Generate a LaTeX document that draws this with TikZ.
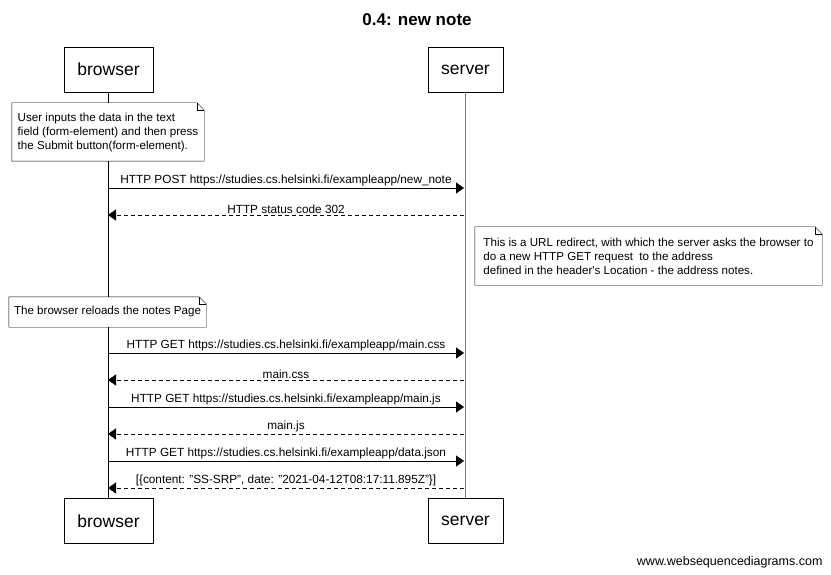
\documentclass[tikz,border=0pt]{standalone}
\usepackage{fontspec}
\setmainfont{Liberation Sans}
\usetikzlibrary{arrows.meta,calc,positioning}

\tikzset{
  actor/.style={draw, minimum height=45pt, inner sep=0pt, font=\fontsize{17.5}{20}\selectfont},
  notebox/.style={inner sep=0pt, align=left, font=\fontsize{11.6}{14}\selectfont},
  lbl/.style={above, inner sep=1.5pt, font=\fontsize{11.8}{13}\selectfont},
  msg/.style={-{Triangle[length=8pt,width=11pt]}},
  reply/.style={msg, dash pattern=on 4pt off 3pt},
}

% folded corner round a note node
\newcommand{\foldnote}[1]{%
  \draw (#1.south west) -- (#1.north west) -- ([xshift=-7pt]#1.north east)
        -- ([yshift=-7pt]#1.north east) -- (#1.south east) -- cycle;
  \draw ([xshift=-7pt]#1.north east) |- ([yshift=-7pt]#1.north east);
}

\begin{document}
\begin{tikzpicture}[x=1pt,y=-1pt]
    \useasboundingbox (0,0) rectangle (831,575);

    \node[font=\bfseries\fontsize{17}{20}\selectfont] (title) at (417,20) {0.4: new note};

    \node[actor, minimum width=89pt] (browser) at (108.5,69.5) {browser};
    \node[actor, minimum width=75pt] (server) at (465.5,69.5) {server};
    \node[actor, minimum width=89pt] (browserB) at (108.5,521) {browser};
    \node[actor, minimum width=75pt] (serverB) at (465.5,521) {server};

    % lifelines
    \draw (browser) -- (browserB);
    \draw[gray, line width=1.5pt] (server) -- (serverB);

    % notes
    \fill[white] (12,103) rectangle (204,161);
    \fill[white] (9,297) rectangle (206,327);
    \node[notebox, minimum width=192pt, minimum height=58pt] (userNote) at (108,132)
      {User inputs the data in the text\\ field (form-element) and then press\\ the Submit button(form-element).};
    \node[notebox, minimum width=347pt, minimum height=58pt] (redirNote) at (648.5,256)
      {This is a URL redirect, with which the server asks the browser to\\ do a new HTTP GET request \ to the address\\ defined in the header\textquotesingle s Location - the address notes.};
    \node[notebox, minimum width=197pt, minimum height=30pt] (reloadNote) at (107.5,312)
      {The browser reloads the notes Page};
    \foldnote{userNote}
    \foldnote{redirNote}
    \foldnote{reloadNote}

    % points on the lifelines
    \foreach \y [count=\i] in {188,215,353,380,407,434,461,488} {
      \coordinate (b\i) at (108,\y);
      \coordinate (s\i) at (464,\y);
    }

    \draw[msg] (b1) -- node[lbl] {HTTP POST https://studies.cs.helsinki.fi/exampleapp/new\_note} (s1);
    \draw[reply] (s2) -- node[lbl] {HTTP status code 302} (b2);
    \draw[msg] (b3) -- node[lbl] {HTTP GET https://studies.cs.helsinki.fi/exampleapp/main.css} (s3);
    \draw[reply] (s4) -- node[lbl] {main.css} (b4);
    \draw[msg] (b5) -- node[lbl] {HTTP GET https://studies.cs.helsinki.fi/exampleapp/main.js} (s5);
    \draw[reply] (s6) -- node[lbl] {main.js} (b6);
    \draw[msg] (b7) -- node[lbl] {HTTP GET https://studies.cs.helsinki.fi/exampleapp/data.json} (s7);
    \draw[reply] (s8) -- node[lbl] {[\{content: "SS-SRP", date: "2021-04-12T08:17:11.895Z"\}]} (b8);

    \node[anchor=east, font=\fontsize{12.5}{14}\selectfont] (credit) at (826,562) {www.websequencediagrams.com};
\end{tikzpicture}
\end{document}
